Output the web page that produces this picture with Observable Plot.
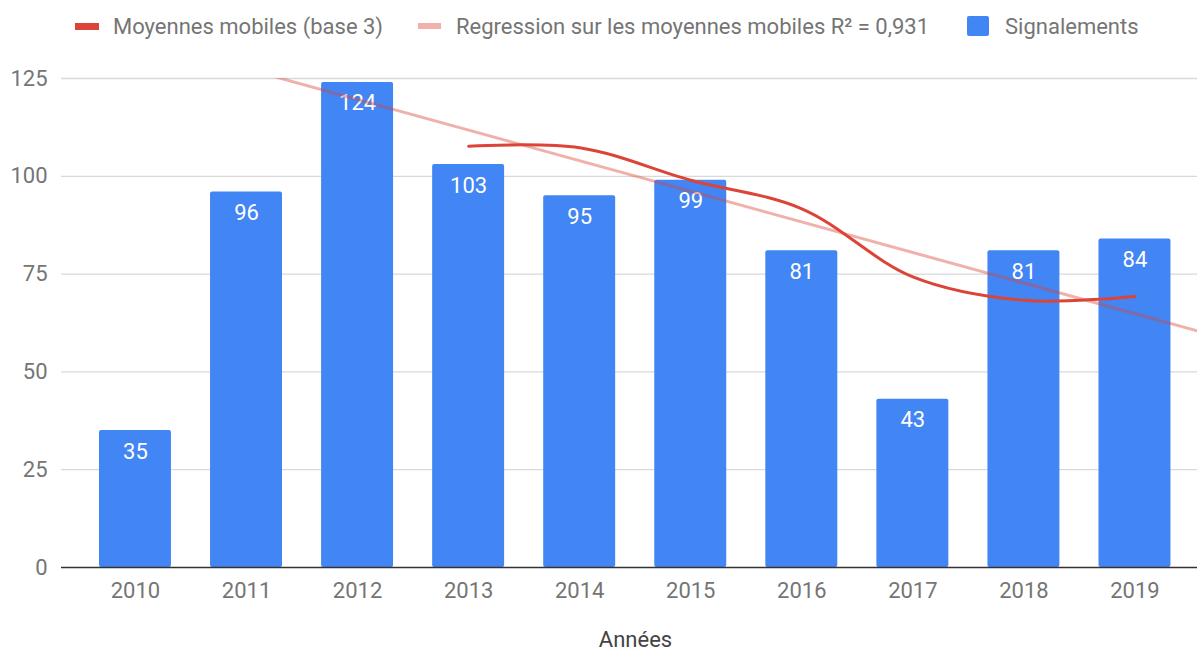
<!DOCTYPE html>
<html><head><meta charset="utf-8">
<script src="https://cdn.jsdelivr.net/npm/d3@7"></script>
<script src="https://cdn.jsdelivr.net/npm/@observablehq/plot@0.6"></script>
<style>
body{margin:0;background:#fff;font-family:Roboto,sans-serif;overflow:hidden;}
#legend{position:relative;height:52px;color:#757575;font-size:22px;}
#legend .it{position:absolute;top:0;height:52px;display:flex;align-items:center;white-space:nowrap;}
#legend .sw{display:inline-block;}
</style></head><body>
<div id="legend"></div><div id="chart"></div>
<script>
// Data
const years = [2010, 2011, 2012, 2013, 2014, 2015, 2016, 2017, 2018, 2019];
const signalements = [35, 96, 124, 103, 95, 99, 81, 43, 81, 84];
const maYears = [2013, 2014, 2015, 2016, 2017, 2018, 2019];
const moyennes = [107.7, 107.3, 99.0, 91.7, 74.3, 68.3, 69.3];
const regYears = [2009.33, 2019.56];
const regValues = [140.5, 60.5];
const yTicks = [0, 25, 50, 75, 100, 125];
const legendItems = [
  {label: "Moyennes mobiles (base 3)", color: "#db4437", w: 24, h: 7, left: 75, gap: 14},
  {label: "Regression sur les moyennes mobiles R² = 0,931", color: "#f1b0aa", w: 23, h: 6, left: 418, gap: 15},
  {label: "Signalements", color: "#4285f4", w: 22, h: 20, left: 967, gap: 16}
];

const bars = years.map((y, i) => ({year: y, v: signalements[i]}));
const ma = maYears.map((y, i) => ({year: y, v: moyennes[i]}));
const reg = regYears.map((y, i) => ({year: y, v: regValues[i]}));

const leg = document.getElementById("legend");
for (const it of legendItems) {
  const d = document.createElement("div");
  d.className = "it";
  d.style.left = it.left + "px";
  const s = document.createElement("span");
  s.className = "sw";
  s.style.width = it.w + "px"; s.style.height = it.h + "px"; s.style.background = it.color;
  s.style.marginRight = it.gap + "px";
  if (it.h > 10) s.style.borderRadius = "2px";
  d.appendChild(s);
  d.appendChild(document.createTextNode(it.label));
  leg.appendChild(d);
}

const halfW = 0.324;
const chart = Plot.plot({
  width: 1197,
  height: 602,
  marginLeft: 61,
  marginRight: 0,
  marginTop: 26,
  marginBottom: 87,
  style: {fontFamily: "Roboto, sans-serif", fontSize: "22px", color: "#757575", background: "#fff"},
  x: {type: "linear", domain: [2009.334, 2019.563]},
  y: {domain: [0, 125]},
  marks: [
    Plot.ruleY(yTicks.filter(t => t > 0), {stroke: "#d9d9d9", strokeWidth: 1.3}),
    Plot.rectY(bars, {x1: d => d.year - halfW, x2: d => d.year + halfW, y1: 0, y2: "v", fill: "#4285f4", rx: 2}),
    Plot.text(bars, {x: "year", y: "v", text: d => String(d.v), dy: 21, fill: "white", fontSize: 22, lineAnchor: "middle"}),
    Plot.line(reg, {x: "year", y: "v", stroke: "#db4437", strokeOpacity: 0.42, strokeWidth: 3, clip: true}),
    Plot.line(ma, {x: "year", y: "v", stroke: "#db4437", strokeWidth: 3, curve: "catmull-rom"}),
    Plot.ruleY([0], {stroke: "#333", strokeWidth: 1.3}),
    Plot.axisY(yTicks, {tickSize: 0, tickPadding: 14, label: null, fontSize: 22, fill: "#757575"}),
    Plot.axisX(years, {tickSize: 0, tickPadding: 15, label: null, tickFormat: d => String(d), fontSize: 22, fill: "#757575"}),
    Plot.text(["Années"], {frameAnchor: "bottom", dx: 6, dy: 72, fill: "#444", fontSize: 22, lineAnchor: "middle"})
  ]
});
document.getElementById("chart").appendChild(chart);
</script>
</body></html>
